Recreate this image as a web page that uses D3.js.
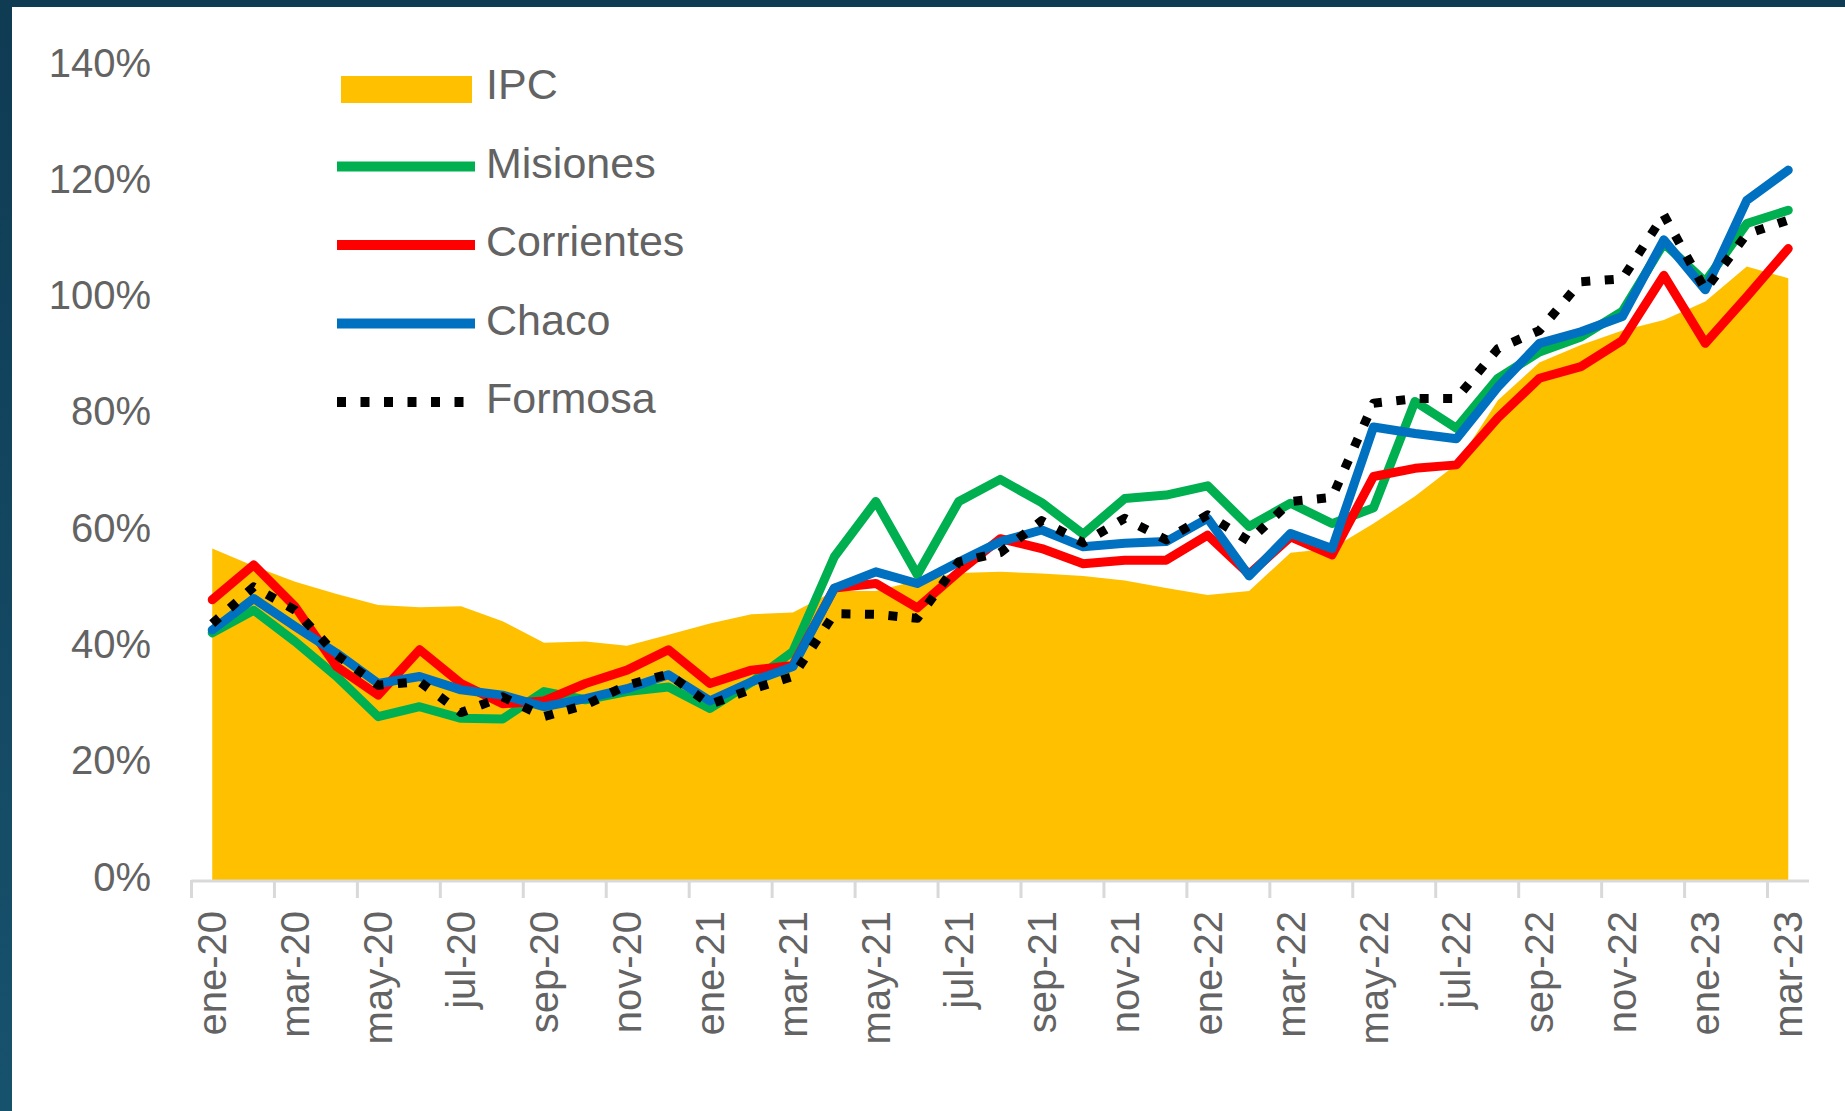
<!DOCTYPE html>
<html>
<head>
<meta charset="utf-8">
<script src="https://d3js.org/d3.v7.min.js"></script>
<style>
    html, body { margin: 0; padding: 0; background: #ffffff; }
    svg { display: block; }
    text { font-family: "Liberation Sans", Arial, sans-serif; fill: #636363; }
</style>
</head>
<body>
<div id="chart"></div>
<script>
// categories (one per month)
var months = ["ene-20","feb-20","mar-20","abr-20","may-20","jun-20","jul-20","ago-20","sep-20","oct-20","nov-20","dic-20",
    "ene-21","feb-21","mar-21","abr-21","may-21","jun-21","jul-21","ago-21","sep-21","oct-21","nov-21","dic-21",
    "ene-22","feb-22","mar-22","abr-22","may-22","jun-22","jul-22","ago-22","sep-22","oct-22","nov-22","dic-22",
    "ene-23","feb-23","mar-23"];

// year-over-year variation, %
var ipc = [57.0, 54.0, 51.3, 49.2, 47.3, 46.9, 47.1, 44.5, 40.8, 41.0, 40.3, 42.2, 44.1, 45.7, 46.0, 49.7, 49.7, 51.5, 52.8, 53.0,
    52.7, 52.3, 51.5, 50.2, 49.0, 49.7, 56.3, 57.0, 61.3, 66.0, 71.5, 82.5, 89.0, 92.0, 94.5, 96.3, 99.5, 105.5, 103.5];
var misiones = [42.5, 46.4, 41.0, 35.0, 28.1, 29.8, 27.8, 27.7, 32.4, 31.0, 32.4, 33.2, 29.5, 34.0, 39.3, 55.6, 65.1, 52.5, 65.1, 68.9,
    64.9, 59.5, 65.6, 66.2, 67.8, 60.8, 64.8, 61.3, 64.0, 82.3, 77.7, 86.3, 90.8, 93.4, 97.8, 109.5, 102.9, 112.9, 115.2];
var corrientes = [48.2, 54.2, 47.0, 36.7, 31.8, 39.6, 33.8, 30.3, 30.8, 33.8, 36.1, 39.6, 33.8, 36.1, 36.9, 50.2, 51.0, 46.8, 53.0, 58.7,
    57.0, 54.4, 55.0, 55.0, 59.3, 52.6, 59.0, 55.9, 69.4, 70.8, 71.4, 79.5, 86.3, 88.3, 92.8, 104.0, 92.3, 100.3, 108.6];
var chaco = [43.0, 48.4, 43.6, 39.0, 33.8, 35.0, 32.7, 31.8, 29.8, 31.2, 32.9, 35.3, 30.8, 34.1, 36.7, 50.2, 53.0, 51.0, 54.7, 58.2,
    60.2, 57.3, 57.9, 58.2, 62.2, 52.3, 59.6, 57.0, 77.9, 76.8, 75.9, 84.8, 92.3, 94.3, 96.9, 110.1, 101.5, 116.9, 122.1];
var formosa = [44.1, 50.4, 46.4, 38.7, 33.5, 34.1, 28.8, 31.5, 28.1, 30.1, 33.5, 35.4, 30.2, 32.8, 35.0, 45.8, 45.7, 45.0, 54.7, 56.3,
    61.8, 58.0, 62.2, 58.5, 62.8, 58.3, 65.1, 65.8, 82.0, 82.8, 82.8, 91.4, 94.5, 102.9, 103.4, 114.4, 101.5, 111.1, 113.5];

var yTicks = [0, 20, 40, 60, 80, 100, 120, 140];
var seriesNames = ["IPC", "Misiones", "Corrientes", "Chaco", "Formosa"];

var W = 1845, H = 1111;
var plot = {left: 191.5, right: 1809, top: 66, bottom: 880};

var svg = d3.select("#chart").append("svg").attr("width", W).attr("height", H);

// dark frame on top and left edges
var grad = svg.append("defs").append("linearGradient").attr("id", "frameGrad")
    .attr("x1", 0).attr("y1", 0).attr("x2", 0).attr("y2", 1);
grad.append("stop").attr("offset", "0%").attr("stop-color", "#0f3b53");
grad.append("stop").attr("offset", "100%").attr("stop-color", "#17526d");
svg.append("rect").attr("x", 0).attr("y", 0).attr("width", W).attr("height", 7).attr("fill", "#0f3b53");
svg.append("rect").attr("x", 0).attr("y", 0).attr("width", 12).attr("height", H).attr("fill", "url(#frameGrad)");

var x = d3.scaleBand().domain(months).range([plot.left, plot.right]).padding(0);
var y = d3.scaleLinear().domain([0, 140]).range([plot.bottom, plot.top]);

function cx(d, i) { return x(months[i]) + x.bandwidth() / 2; }

// IPC area
var area = d3.area().x(cx).y0(y(0)).y1(function (d) { return y(d); });
svg.append("path").datum(ipc).attr("d", area).attr("fill", "#FFC000");

// province lines, drawn in series order
var lines = [
    {name: "Misiones", values: misiones, color: "#00B050", dash: null},
    {name: "Corrientes", values: corrientes, color: "#FF0000", dash: null},
    {name: "Chaco", values: chaco, color: "#0070C0", dash: null},
    {name: "Formosa", values: formosa, color: "#000000", dash: "9 14.5"}
];
var line = d3.line().x(cx).y(function (d) { return y(d); });

lines.forEach(function (s) {
    svg.append("path").datum(s.values)
        .attr("d", line)
        .attr("fill", "none")
        .attr("stroke", s.color)
        .attr("stroke-width", 9)
        .attr("stroke-linejoin", "round")
        .attr("stroke-linecap", s.dash ? "butt" : "round")
        .attr("stroke-dasharray", s.dash);
});

// x axis: line, tick marks every two months on band edges, rotated labels
svg.append("line")
    .attr("x1", plot.left).attr("x2", plot.right)
    .attr("y1", y(0) + 1).attr("y2", y(0) + 1)
    .attr("stroke", "#d9d9d9").attr("stroke-width", 3);

var tickMonths = months.filter(function (m, i) { return i % 2 == 0; });
svg.selectAll(".tk").data(tickMonths).enter().append("line")
    .attr("class", "tk")
    .attr("x1", function (d) { return x(d); }).attr("x2", function (d) { return x(d); })
    .attr("y1", y(0)).attr("y2", y(0) + 18)
    .attr("stroke", "#d9d9d9").attr("stroke-width", 3);

var xAxis = d3.axisBottom(x).tickValues(tickMonths).tickSize(0).tickPadding(0);
var gx = svg.append("g").attr("transform", "translate(0," + y(0) + ")").call(xAxis);
gx.select(".domain").remove();
gx.selectAll("text")
    .attr("transform", "rotate(-90)")
    .attr("x", -31).attr("y", 0).attr("dy", "0.35em")
    .style("text-anchor", "end")
    .style("font-size", "40px");

// y axis labels only
var yAxis = d3.axisLeft(y).tickValues(yTicks).tickFormat(function (d) { return d + "%"; }).tickSize(0).tickPadding(0);
var gy = svg.append("g").attr("transform", "translate(151,0)").call(yAxis);
gy.select(".domain").remove();
gy.selectAll("text").attr("y", -4).attr("dy", "0.35em").style("font-size", "40px");

// legend, top left inside the plot
var lg = svg.append("g").attr("class", "legend");
seriesNames.forEach(function (name, i) {
    var rowY = 84 + i * 78.5;
    if (name == "IPC") {
        lg.append("rect").attr("x", 341).attr("y", rowY - 8).attr("width", 131).attr("height", 27)
            .attr("fill", "#FFC000");
    } else {
        var s = lines.filter(function (l) { return l.name == name; })[0];
        lg.append("line")
            .attr("x1", 337).attr("x2", s.dash ? 465 : 475)
            .attr("y1", rowY + 4).attr("y2", rowY + 4)
            .attr("stroke", s.color).attr("stroke-width", 10)
            .attr("stroke-dasharray", s.dash);
    }
    lg.append("text").attr("x", 486).attr("y", rowY).attr("dy", "0.35em")
        .style("font-size", "43px").text(name);
});
</script>
</body>
</html>
